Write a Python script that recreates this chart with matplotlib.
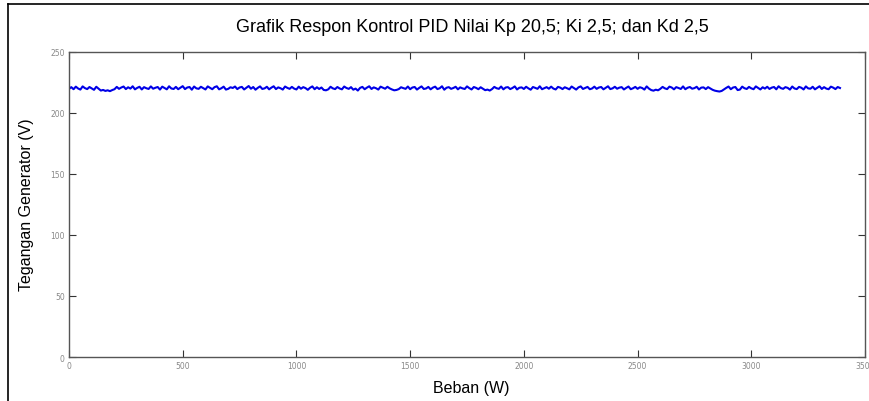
import numpy as np
import matplotlib
matplotlib.use('Agg')
import matplotlib.pyplot as plt
from matplotlib.lines import Line2D

judul = 'Grafik Respon Kontrol PID Nilai Kp 20,5; Ki 2,5; dan Kd 2,5'
label_x = 'Beban (W)'
label_y = 'Tegangan Generator (V)'

x_ticks = [0, 500, 1000, 1500, 2000, 2500, 3000, 3500]
y_ticks = [0, 50, 100, 150, 200, 250]

beban_step = 10
# tegangan generator (V), satu nilai tiap 10 W mulai 0 W
tegangan = [
    219.8, 221.2, 219.5, 221.6, 220.1, 219.2, 221.8, 220.4, 219.6, 221.3, 220.2, 219.0, 221.5, 219.9, 218.4, 218.9, 218.1, 218.6, 217.9, 218.8,
    219.5, 221.4, 219.8, 220.9, 221.7, 219.6, 221.1, 220.0, 221.9, 219.4, 220.6, 221.5, 219.3, 221.2, 220.3, 219.7, 221.8, 219.9, 220.7, 221.3,
    219.2, 221.6, 220.5, 219.4, 221.9, 220.1, 219.7, 221.4, 219.5, 220.8, 222.0, 219.6, 220.9, 221.3, 219.1, 221.7, 220.2, 219.8, 221.5, 220.4,
    219.3, 221.8, 220.6, 219.5, 221.2, 221.9, 219.4, 220.3, 221.6, 219.2, 219.8, 221.1, 220.5, 221.7, 219.6, 220.9, 221.4, 219.3, 220.7, 222.1,
    219.9, 221.3, 219.1, 220.6, 221.8, 219.7, 220.2, 221.5, 219.4, 220.8, 221.9, 219.6, 221.0, 220.3, 219.2, 221.7, 220.6, 219.8, 221.4, 220.0,
    219.3, 221.6, 219.9, 221.2, 220.4, 219.0, 220.7, 221.8, 219.5, 221.1, 219.7, 220.9, 218.9, 218.6, 219.4, 221.5, 220.2, 219.6, 221.3, 220.1,
    219.4, 221.7, 220.5, 219.8, 221.2, 219.1, 220.0, 218.4, 220.6, 221.4, 219.5, 220.8, 221.9, 219.7, 221.0, 220.3, 219.2, 221.6, 220.7, 219.9,
    221.5, 220.2, 219.3, 218.6, 218.9, 219.6, 221.1, 220.4, 219.8, 221.7, 219.5, 220.9, 221.3, 219.2, 220.6, 221.8, 219.7, 220.1, 221.4, 219.4,
    220.8, 221.6, 219.6, 220.3, 221.9, 219.1, 220.7, 221.2, 219.8, 220.5, 221.5, 219.4, 221.0, 220.2, 219.7, 221.8, 220.4, 219.3, 221.3, 220.6,
    219.5, 221.1, 219.9, 218.7, 219.2, 218.4, 219.6, 221.4, 220.3, 219.8, 221.7, 219.4, 220.9, 221.2, 219.6, 220.5, 221.8, 219.3, 220.7, 221.0,
    219.7, 221.5, 220.2, 219.1, 221.3, 220.6, 219.8, 221.9, 219.5, 220.4, 221.2, 219.9, 221.6, 220.0, 219.3, 221.4, 220.8, 219.6, 221.1, 220.3,
    219.4, 221.7, 220.5, 219.2, 221.0, 221.8, 219.7, 220.6, 221.4, 219.5, 220.1, 221.6, 219.8, 220.9, 221.3, 219.4, 220.7, 221.9, 219.6, 220.2,
    221.5, 219.9, 220.8, 221.2, 219.3, 220.6, 221.7, 219.5, 220.3, 221.4, 219.8, 221.1, 220.5, 219.2, 221.8, 220.0, 218.8, 218.3, 219.1, 218.6,
    219.8, 221.4, 220.2, 219.6, 221.6, 220.9, 219.4, 221.2, 220.5, 219.7, 221.8, 219.5, 220.7, 221.3, 219.9, 220.4, 221.5, 219.3, 220.8, 221.0,
    219.6, 221.2, 220.1, 219.0, 218.3, 217.9, 217.6, 218.1, 219.4, 220.6, 221.7, 219.5, 220.9, 221.3, 218.8, 219.2, 221.6, 220.3, 219.7, 221.4,
    220.2, 219.5, 221.8, 220.6, 219.3, 221.1, 220.0, 221.5, 219.7, 220.8, 221.3, 219.4, 221.9, 220.4, 219.8, 221.2, 220.6, 219.2, 221.7, 220.1,
    219.6, 221.4, 220.7, 219.3, 221.8, 220.2, 219.9, 221.5, 219.4, 220.6, 221.9, 219.7, 221.2, 220.0, 219.5, 221.6, 220.8, 219.6, 221.3, 220.5,
]
beban = np.arange(len(tegangan)) * beban_step

narrow = ['Liberation Sans Narrow', 'Liberation Sans', 'DejaVu Sans']

fig = plt.figure(figsize=(8.7, 4.02), dpi=100)
ax = fig.add_axes([69 / 870, 1 - 358 / 402, 796 / 870, 305 / 402])

ax.plot(beban, tegangan, '-', color='#0000e6', lw=1.5)

ax.set_xlim(0, 3500)
ax.set_ylim(0, 250)
ax.set_xticks(x_ticks)
ax.set_yticks(y_ticks)
ax.tick_params(direction='in', length=5, width=0.8, labelsize=5.5, labelcolor='#888888',
               top=True, right=True, pad=3, color='#333333')
for s in ax.spines.values():
    s.set_color('#555555')
    s.set_linewidth(1.0)

fig.text(472 / 870, 1 - 27 / 402, judul, ha='center', va='center', fontsize=13, family=narrow)
fig.text(471 / 870, 1 - 389 / 402, label_x, ha='center', va='center', fontsize=11.5, family=narrow)
fig.text(27 / 870, 1 - 205 / 402, label_y, ha='center', va='center', fontsize=11.5,
         rotation=90, family=narrow)

# bingkai luar gambar
fig.add_artist(Line2D([8 / 870, 8 / 870], [0, 1 - 5 / 402], color='black', lw=1.2))
fig.add_artist(Line2D([8 / 870, 1], [1 - 5 / 402, 1 - 5 / 402], color='black', lw=1.2))

fig.savefig('out.png', dpi=100)
